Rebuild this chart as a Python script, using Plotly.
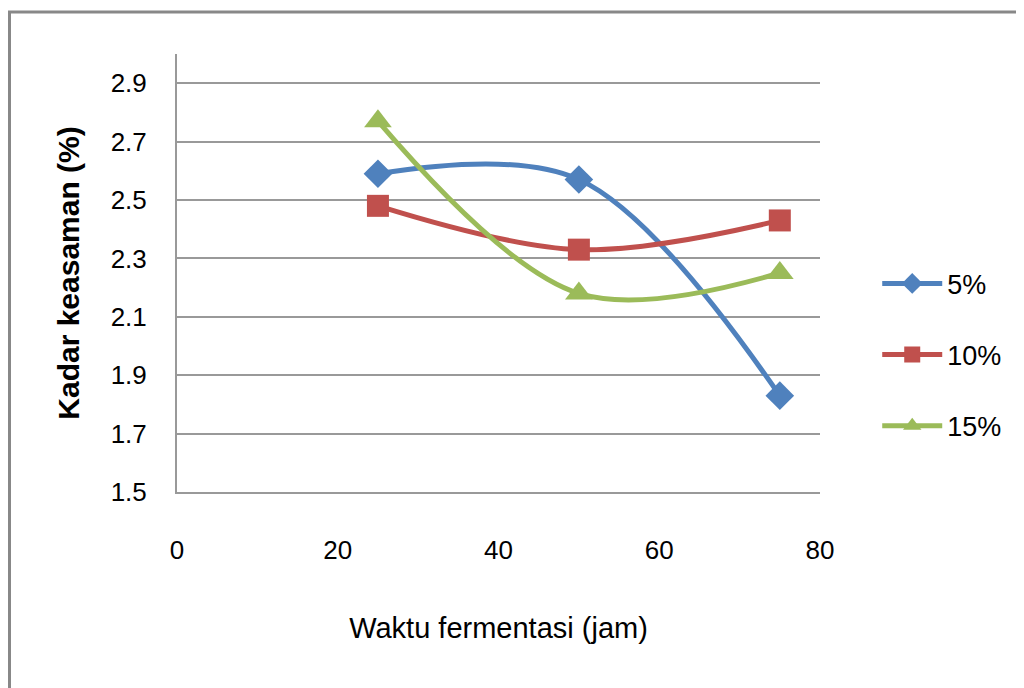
import plotly.graph_objects as go

x_jam = [25, 50, 75]
s5 = [2.59, 2.57, 1.83]
s10 = [2.48, 2.33, 2.43]
s15 = [2.77, 2.18, 2.25]
names = ["5%", "10%", "15%"]
colors = ["#4F81BD", "#C0504D", "#9BBB59"]
symbols = ["diamond", "square", "triangle-up"]
x_ticks = [0, 20, 40, 60, 80]
y_ticks = [1.5, 1.7, 1.9, 2.1, 2.3, 2.5, 2.7, 2.9]

FONT = "Liberation Sans, Arial, sans-serif"

fig = go.Figure()
for name, ys, c, sym in zip(names, [s5, s10, s15], colors, symbols):
    fig.add_trace(go.Scatter(
        x=x_jam, y=ys, name=name, mode="lines+markers",
        line=dict(color=c, width=5, shape="spline", smoothing=1.0),
        marker=dict(symbol=sym, size=24 if sym == "triangle-up" else 22, color=c),
        legendgroup=name,
    ))

L, R, T, B = 169, 212, 46, 204
fig.update_layout(
    width=1024, height=688,
    margin=dict(l=L, r=R, t=T, b=B),
    paper_bgcolor="white", plot_bgcolor="white",
    font=dict(family=FONT, size=26, color="#000"),
    showlegend=True,
    legend=dict(x=1.089, y=0.313, xanchor="left", yanchor="middle",
                font=dict(size=27), tracegroupgap=33, itemwidth=60,
                bgcolor="rgba(0,0,0,0)"),
    xaxis=dict(range=[0, 80], tickvals=x_ticks, showgrid=False,
               showline=True, linecolor="#999", linewidth=2, zeroline=False,
               ticks="", ticklabelstandoff=34, tickfont=dict(size=26),
               title=dict(text="Waktu fermentasi (jam)", standoff=53,
                          font=dict(size=29))),
    yaxis=dict(range=[1.5, 3.0], tickvals=y_ticks, ticktext=[f"{v:.1f}" for v in y_ticks],
               showgrid=True, gridcolor="#999", gridwidth=2,
               showline=True, linecolor="#999", linewidth=2, zeroline=False,
               ticks="", ticklabelstandoff=23, tickfont=dict(size=26),
               title=dict(text="<b>Kadar keasaman (%)</b>", standoff=22,
                          font=dict(size=30))),
    shapes=[dict(type="rect", xref="paper", yref="paper",
                 x0=-0.2605, y0=-0.6, x1=1.5, y1=1.096,
                 line=dict(color="#888", width=3), layer="below")],
)

fig.write_html("out.html")
